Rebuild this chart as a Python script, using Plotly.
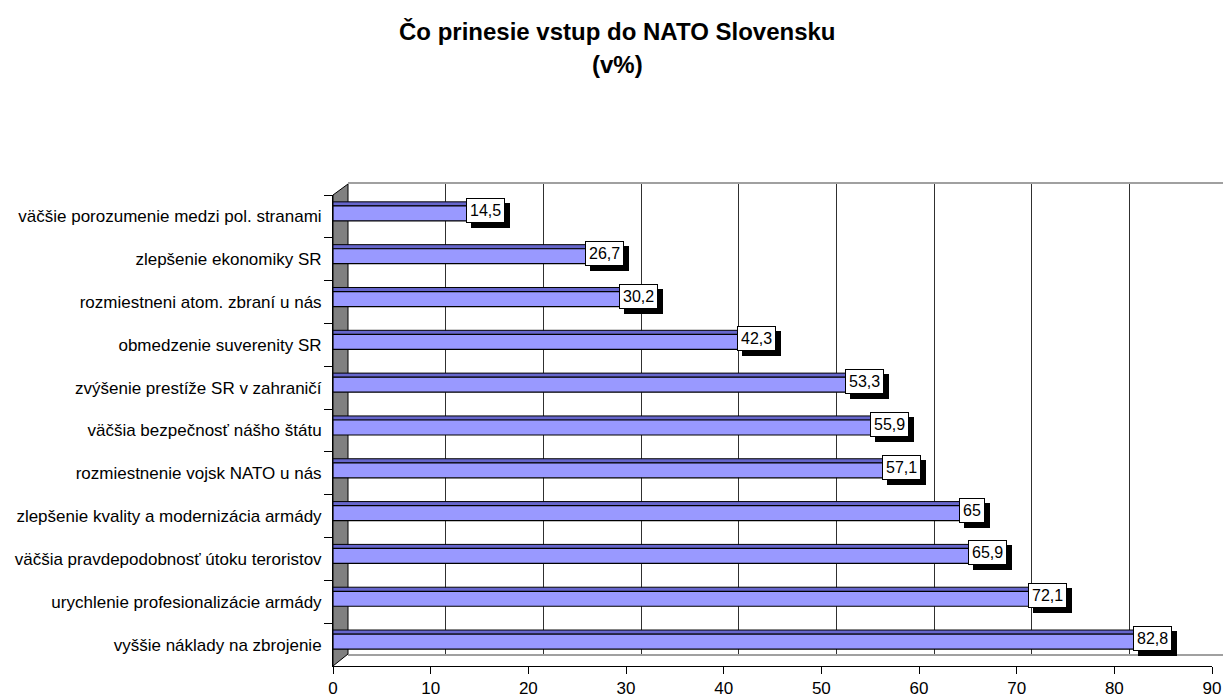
import plotly.graph_objects as go

categories = [
    "väčšie porozumenie medzi pol. stranami",
    "zlepšenie ekonomiky SR",
    "rozmiestneni atom. zbraní u nás",
    "obmedzenie suverenity SR",
    "zvýšenie prestíže SR v zahraničí",
    "väčšia bezpečnosť nášho štátu",
    "rozmiestnenie vojsk NATO u nás",
    "zlepšenie kvality a modernizácia armády",
    "väčšia pravdepodobnosť útoku teroristov",
    "urychlenie profesionalizácie armády",
    "vyššie náklady na zbrojenie",
]
values = [14.5, 26.7, 30.2, 42.3, 53.3, 55.9, 57.1, 65, 65.9, 72.1, 82.8]
title_line1 = "Čo prinesie vstup do NATO Slovensku"
title_line2 = "(v%)"

W, H = 1223, 698
FONT = "Liberation Sans, Arial, sans-serif"


def px(x):
    return x / W


def py(y):
    return 1 - y / H


# front (data) axes
FX0, FX1 = 333, 1212
FY_TOP, FY_BOT = 195, 666
# back wall (3D offset)
BX0 = 348
BY_TOP, BY_BOT = 184, 654
unit = (FX1 - FX0) / 90.0

fig = go.Figure()

labels = [f"{v:g}".replace(".", ",") for v in values]
# same-width placeholder text for the label shadows
shadow_text = [t.translate(str.maketrans("0123456789,", "\u2007" * 10 + "\u2008")) for t in labels]

# empty trace so the back-wall subplot (grid) is drawn
fig.add_trace(go.Scatter(x=[], y=[], xaxis="x", yaxis="y",
                         showlegend=False, hoverinfo="skip"))

# top face of 3D bars
fig.add_trace(go.Bar(
    x=values, y=categories, orientation="h",
    xaxis="x2", yaxis="y2",
    width=0.1, offset=-0.34,
    marker=dict(color="#6666cc", line=dict(color="black", width=1)),
    hoverinfo="skip", showlegend=False,
))
# front face
fig.add_trace(go.Bar(
    x=values, y=categories, orientation="h",
    xaxis="x2", yaxis="y2",
    width=0.35, offset=-0.245,
    marker=dict(color="#9999ff", line=dict(color="black", width=1.2)),
    showlegend=False,
))

annotations = []
for v, c, t in zip(values, categories, shadow_text):
    annotations.append(dict(
        x=v, y=c, xref="x2", yref="y2", text=t, showarrow=False,
        xanchor="left", yanchor="middle", xshift=-9 + 5, yshift=6 - 5,
        font=dict(family=FONT, size=16, color="black"),
        bgcolor="black", bordercolor="black", borderwidth=1, borderpad=3,
    ))
for v, c, t in zip(values, categories, labels):
    annotations.append(dict(
        x=v, y=c, xref="x2", yref="y2", text=t, showarrow=False,
        xanchor="left", yanchor="middle", xshift=-9, yshift=6,
        font=dict(family=FONT, size=16, color="black"),
        bgcolor="white", bordercolor="black", borderwidth=1, borderpad=3,
    ))

annotations.append(dict(
    x=px(617), y=py(31), xref="paper", yref="paper", text=f"<b>{title_line1}</b>",
    showarrow=False, xanchor="center", yanchor="middle",
    font=dict(family=FONT, size=24, color="black"),
))
annotations.append(dict(
    x=px(617), y=py(64), xref="paper", yref="paper", text=f"<b>{title_line2}</b>",
    showarrow=False, xanchor="center", yanchor="middle",
    font=dict(family=FONT, size=24, color="black"),
))

shapes = [
    # left wall
    dict(type="path", xref="paper", yref="paper",
         path=(f"M {px(FX0)},{py(FY_TOP)} L {px(BX0)},{py(BY_TOP)} "
               f"L {px(BX0)},{py(BY_BOT)} L {px(FX0)},{py(FY_BOT)} Z"),
         fillcolor="#808080", line=dict(color="black", width=1), layer="below"),
]

fig.update_layout(
    width=W, height=H,
    margin=dict(l=0, r=0, t=0, b=0),
    paper_bgcolor="white", plot_bgcolor="rgba(0,0,0,0)",
    barmode="overlay",
    font=dict(family=FONT, size=17, color="black"),
    # back wall axes (grid only)
    xaxis=dict(domain=[px(BX0), 1.0], range=[0, (W - BX0) / unit],
               anchor="y", dtick=10, tick0=0, showgrid=True,
               gridcolor="#303030", gridwidth=1, showticklabels=False,
               ticks="", zeroline=False, showline=True, mirror=True,
               linecolor="#a0a0a0", linewidth=2, fixedrange=True),
    yaxis=dict(domain=[py(BY_BOT), py(BY_TOP)], range=[0, 1], anchor="x",
               showgrid=False, showticklabels=False, ticks="",
               zeroline=False, showline=False, fixedrange=True),
    # front axes (data)
    xaxis2=dict(domain=[px(FX0), px(FX1)], range=[0, 90], anchor="y2",
                dtick=10, tick0=0, showgrid=False, zeroline=False,
                showline=True, linecolor="black", linewidth=1,
                ticks="outside", ticklen=7, tickcolor="black",
                tickfont=dict(family=FONT, size=17, color="black"),
                automargin=False, fixedrange=True),
    yaxis2=dict(domain=[py(FY_BOT), py(FY_TOP)], type="category",
                categoryorder="array", categoryarray=categories,
                autorange="reversed", anchor="x2",
                showgrid=False, zeroline=False, showline=True,
                linecolor="black", linewidth=1, ticks="outside", ticklen=8,
                tickcolor="black", tickson="boundaries", ticklabelstandoff=7,
                tickfont=dict(family=FONT, size=17, color="black"),
                automargin=False, fixedrange=True),
    annotations=annotations,
    shapes=shapes,
)

fig.write_html("out.html", config={"displayModeBar": False},
               post_script="document.body.style.margin='0';")
